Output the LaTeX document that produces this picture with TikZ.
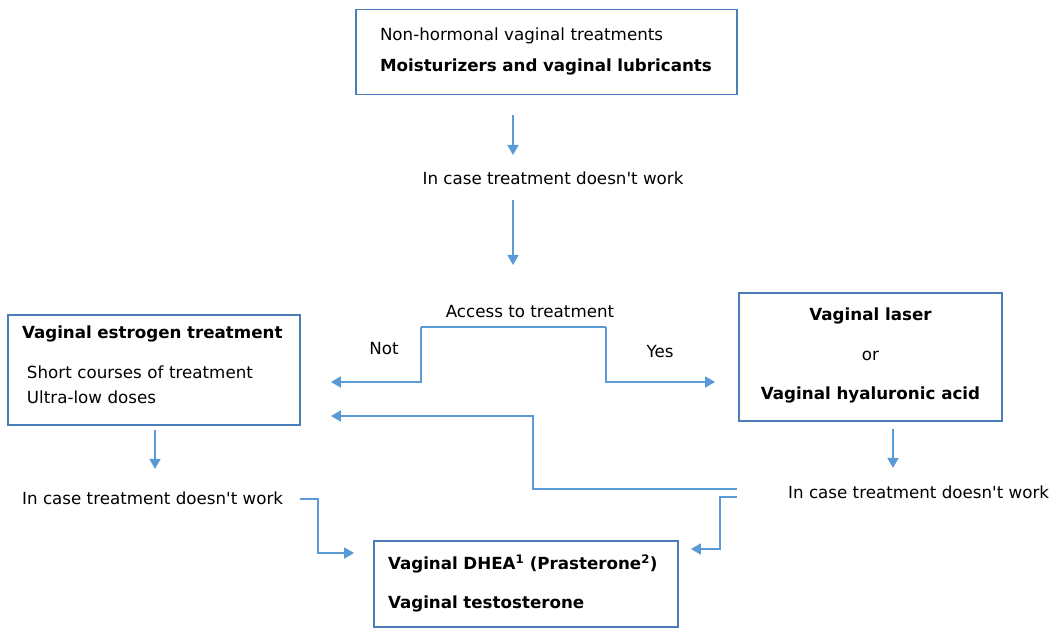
\documentclass[tikz,border=0pt]{standalone}
\usepackage{fontspec}
\setmainfont{DejaVu Sans}
\usepackage{tikz}
\usetikzlibrary{arrows.meta,positioning,calc}
\definecolor{boxblue}{RGB}{74,126,187}
\definecolor{flowblue}{RGB}{91,155,213}
\tikzstyle{box}  = [draw=boxblue,line width=1.8pt,inner sep=0pt]
\tikzstyle{txt}  = [inner sep=0pt,font=\fontsize{16.7}{20}\selectfont]
\tikzstyle{flow} = [draw=flowblue,line width=1.7pt,arrows={-Triangle[length=10pt,width=11pt]}]
\tikzstyle{line} = [draw=flowblue,line width=1.7pt]
\newcommand{\fails}{In case treatment doesn\textquotesingle t work}
\newcommand{\lift}[1]{\rule[-#1]{0pt}{0pt}}

\begin{document}
\begin{tikzpicture}[x=1pt,y=-1pt]
                  \useasboundingbox (0,0) rectangle (1055,628);
                  % boxes
                  \node (nonhorm)[box,minimum width=381pt,minimum height=85pt,text width=333pt,align=left,
                        font=\fontsize{16.7}{31}\selectfont] at (546.5,52)
                        {Non-hormonal vaginal treatments\\\textbf{Moisturizers and vaginal lubricants}\lift{4pt}};
                  \node (estrogen)[box,minimum width=292pt,minimum height=110pt,text width=264pt,align=left,
                        font=\fontsize{16.7}{25}\selectfont] at (154,370)
                        {\textbf{Vaginal estrogen treatment}\\[15pt]
                         \hspace*{5pt}Short courses of treatment\\\hspace*{5pt}Ultra-low doses\lift{10pt}};
                  \node (laser)[box,minimum width=263pt,minimum height=128pt,align=center,
                        font=\fontsize{16.7}{39.5}\selectfont] at (870.5,357)
                        {\textbf{Vaginal laser}\\or\\\textbf{Vaginal hyaluronic acid}\lift{6pt}};
                  \node (dhea)[box,minimum width=304pt,minimum height=86pt,text width=276pt,align=left,
                        font=\fontsize{16.7}{39}\selectfont] at (526,584)
                        {\textbf{Vaginal DHEA\textsuperscript{1} (Prasterone\textsuperscript{2})}\\\textbf{Vaginal testosterone}\lift{4pt}};
            
                  % texts
                  \node (fail1)[txt] at (553,178) {\fails};
                  \node (access)[txt] at (530,312) {Access to treatment};
                  \node (not)[txt] at (384,349) {Not};
                  \node (yes)[txt] at (660,352) {Yes};
                  \node (fail2)[txt,anchor=west] at (22,498) {\fails};
                  \node (fail3)[txt,anchor=west] at (788,492) {\fails};

                  % bends
                  \coordinate (top1) at (513,115);
                  \coordinate (top2) at (513,155);
                  \coordinate (top3) at (513,200);
                  \coordinate (top4) at (513,265);
                  \coordinate (tl) at (421,327);
                  \coordinate (tr) at (606,327);
                  \coordinate (mid) at (533,416);
                  \coordinate (r1) at (737,489);
                  \coordinate (r2) at (737,497);
                  \coordinate (l1) at (300,499);
            
                  \draw[flow] (top1) -- (top2);
                  \draw[flow] (top3) -- (top4);
                  \draw[line] (tl) -- (tr);
                  \draw[flow] (tl) |- ($(estrogen.east)+(30,12)$);
                  \draw[flow] (tr) |- ($(laser.west)+(-23,25)$);
                  \draw[flow] (r1) -| (mid) -- ($(estrogen.east |- mid)+(30,0)$);
                  \draw[flow] ($(estrogen.south)+(1,4)$) -- +(0,39);
                  \draw[flow] ($(laser.south)+(22.5,7)$) -- +(0,39);
                  \draw[flow] (l1) -| (318,553) -- ($(dhea.west |- 0,553)+(-19,0)$);
                  \draw[flow] (r2) -| (720,549) -- ($(dhea.east |- 0,549)+(12,0)$);
            \end{tikzpicture}
\end{document}
